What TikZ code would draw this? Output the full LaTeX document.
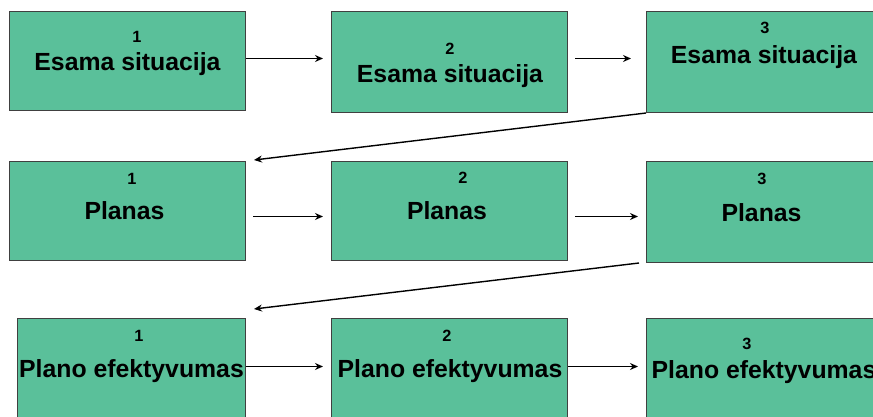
\documentclass[tikz,border=0pt]{standalone}
\usepackage{fontspec}
\setmainfont{Liberation Sans}
\usetikzlibrary{arrows.meta}
\definecolor{boxgreen}{RGB}{90,192,154}
\tikzset{step box/.style={draw=black!75, fill=boxgreen, line width=1pt, anchor=north west, minimum width=236pt, minimum height=100pt, inner sep=0pt},}
\tikzset{step num/.style={anchor=base, inner sep=0pt, font=\fontsize{16.3}{18}\selectfont\bfseries},}
\tikzset{step label/.style={anchor=base, inner sep=0pt, font=\fontsize{24.8}{28}\selectfont\bfseries},}
\tikzset{flow/.style={-{Stealth[length=8pt,width=7pt]}, line width=1.4pt},}

\begin{document}
\begin{tikzpicture}[x=1pt,y=-1pt]
     \clip (0,0) rectangle (873,416);
     % boxes
     \node[step box, minimum height=99pt] (sit1) at (9,11) {};
     \node[step box, minimum height=101pt] (sit2) at (331,11) {};
     \node[step box, minimum height=101pt] (sit3) at (646,11) {};
     \node[step box, minimum height=99pt] (plan1) at (9,161) {};
     \node[step box, minimum height=99pt] (plan2) at (331,161) {};
     \node[step box, minimum height=101pt] (plan3) at (646,161) {};
     \node[step box, minimum width=228pt] (ef1) at (17,318) {};
     \node[step box] (ef2) at (331,318) {};
     \node[step box] (ef3) at (646,318) {};

     % texts
     \node[step num] (sit1n) at (137,42) {1};
     \node[step label] (sit1l) at (127.5,70) {Esama situacija};
     \node[step num] (sit2n) at (450,54) {2};
     \node[step label] (sit2l) at (450,82) {Esama situacija};
     \node[step num] (sit3n) at (765,33) {3};
     \node[step label] (sit3l) at (764,63) {Esama situacija};
     \node[step num] (plan1n) at (132,184) {1};
     \node[step label] (plan1l) at (124.5,219) {Planas};
     \node[step num] (plan2n) at (463,183) {2};
     \node[step label] (plan2l) at (447,219) {Planas};
     \node[step num] (plan3n) at (762,184) {3};
     \node[step label] (plan3l) at (761.5,221) {Planas};
     \node[step num] (ef1n) at (139,341) {1};
     \node[step label] (ef1l) at (131.5,377) {Plano efektyvumas};
     \node[step num] (ef2n) at (447,341) {2};
     \node[step label] (ef2l) at (450,377) {Plano efektyvumas};
     \node[step num] (ef3n) at (747,349) {3};
     \node[step label] (ef3l) at (764,378) {Plano efektyvumas};

     \path[flow]
     ([yshift=2.5pt]sit1.east) edge ([xshift=-8pt,yshift=3.5pt]sit2.west)
     ([xshift=7pt,yshift=3.5pt]sit2.east) edge ([xshift=-15pt,yshift=3.5pt]sit3.west)
     (sit3.south west) edge ([xshift=8pt,yshift=1pt]plan1.north east)
     ([xshift=7pt,yshift=-5.5pt]plan1.east) edge ([xshift=-8pt,yshift=-5.5pt]plan2.west)
     ([xshift=7pt,yshift=-5.5pt]plan2.east) edge ([xshift=-8pt,yshift=-4.5pt]plan3.west)
     ([xshift=-7pt]plan3.south west) edge ([xshift=8pt,yshift=9pt]ef1.north east)
     ([yshift=2pt]ef1.east) edge ([xshift=-8pt,yshift=2pt]ef2.west)
     ([yshift=2pt]ef2.east) edge ([xshift=-8pt,yshift=2pt]ef3.west);
  \end{tikzpicture}
\end{document}
